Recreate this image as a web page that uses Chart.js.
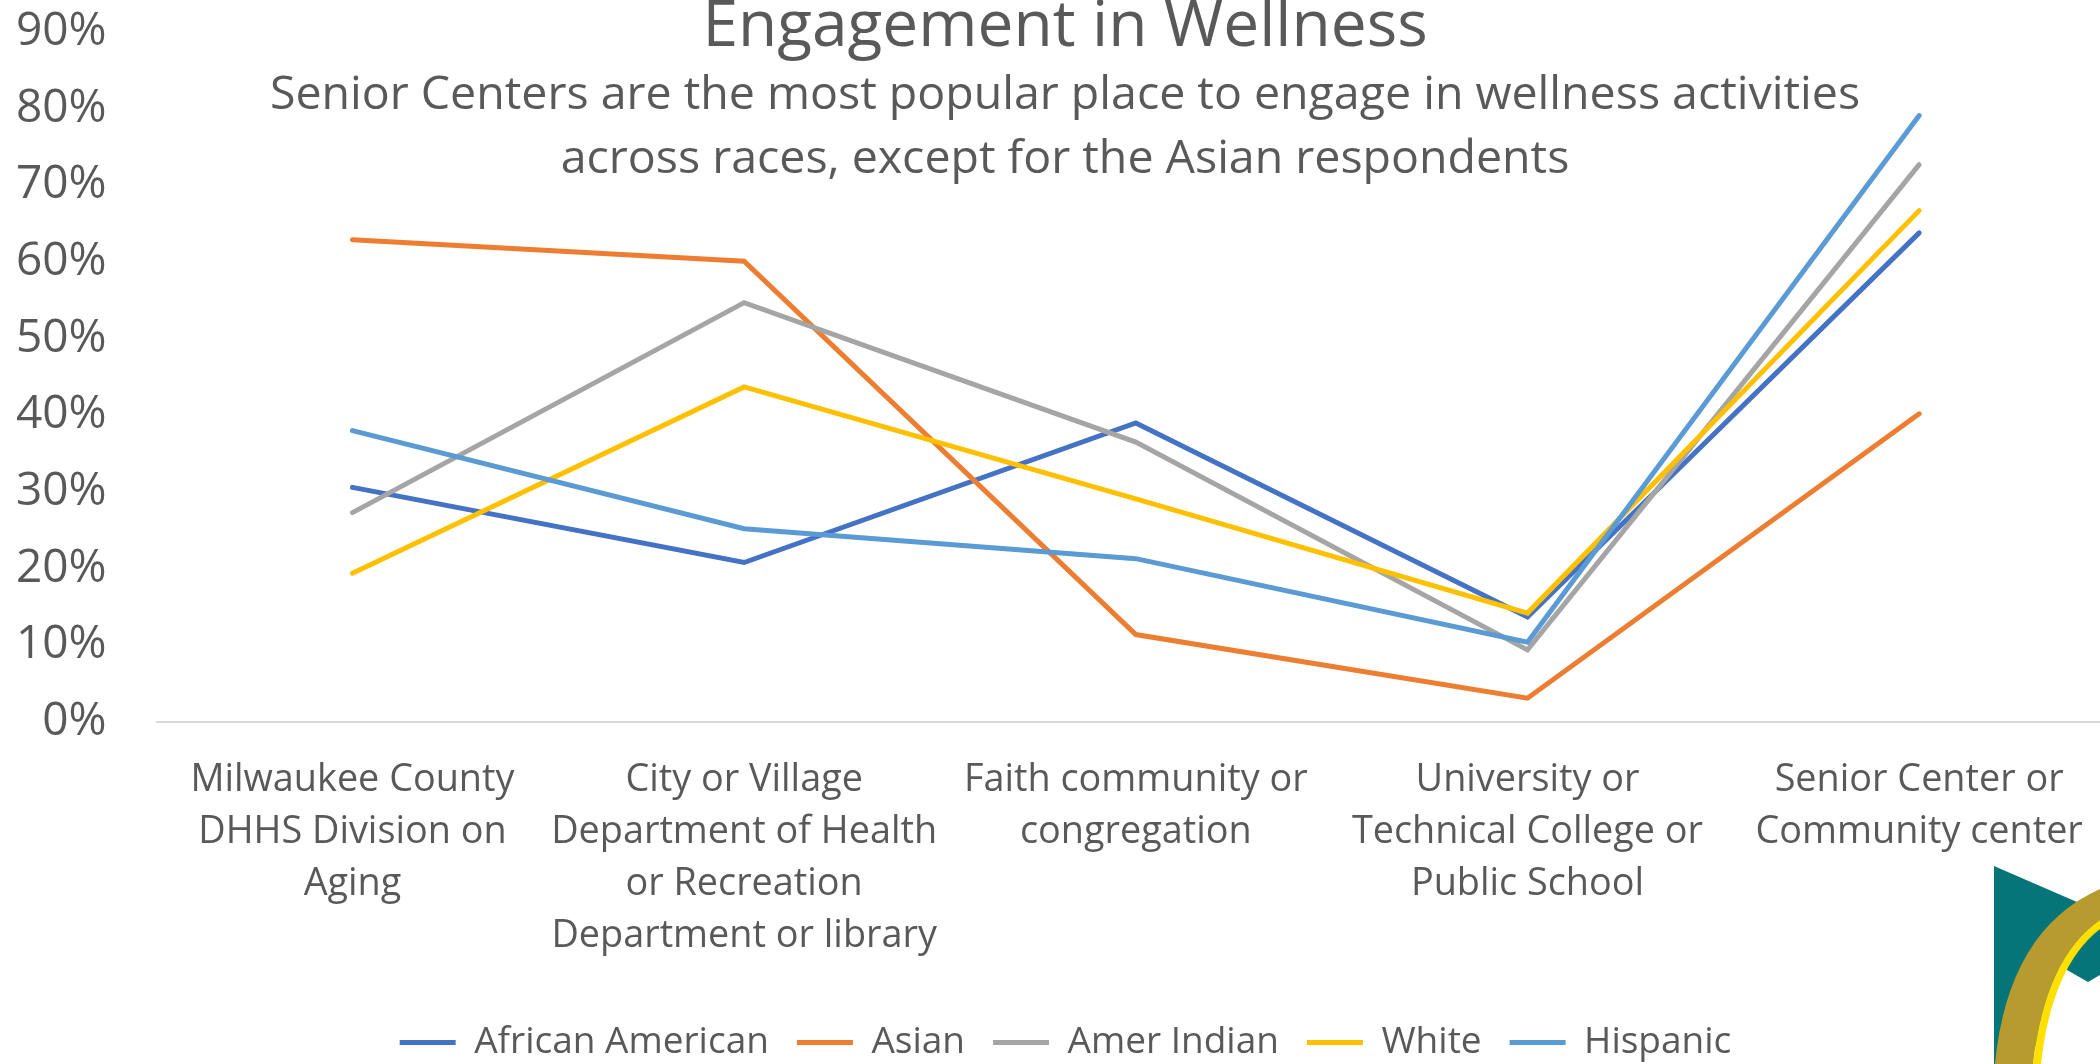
<!DOCTYPE html>
<html>
<head>
<meta charset="utf-8">
<script src="https://cdn.jsdelivr.net/npm/chart.js@4.4.1/dist/chart.umd.min.js"></script>
<style>
  html, body { margin: 0; padding: 0; background: #fff; overflow: hidden; }
  #wrap { position: absolute; left: 0; top: 0; width: 2130px; height: 1071px; }
  #logo { position: absolute; left: 0; top: 0; }
</style>
</head>
<body>
<div id="wrap"><canvas id="chart"></canvas></div>
<svg id="logo" width="2100" height="1064" viewBox="0 0 2100 1064">
  <polygon points="1994,866 2100,912 2100,975 2088,982 2060,966 2030,1064 1994,1064" fill="#06757A"/>
  <path d="M1995,1064 Q2008,930 2100,889 L2100,920 Q2045,958 2033,1064 Z" fill="#B89B2E"/>
  <path d="M2033,1064 Q2045,958 2100,920 L2100,929 Q2052,966 2041,1064 Z" fill="#FFE000"/>
</svg>
<script>
const categories = [
  ["Milwaukee County", "DHHS Division on", "Aging"],
  ["City or Village", "Department of Health", "or Recreation", "Department or library"],
  ["Faith community or", "congregation"],
  ["University or", "Technical College or", "Public School"],
  ["Senior Center or", "Community center"]
];
const seriesNames = ["African American", "Asian", "Amer Indian", "White", "Hispanic"];
const africanAmerican = [0.306, 0.208, 0.390, 0.137, 0.638];
const asian = [0.629, 0.601, 0.114, 0.031, 0.402];
const amerIndian = [0.273, 0.547, 0.365, 0.094, 0.727];
const white = [0.194, 0.437, 0.291, 0.142, 0.667];
const hispanic = [0.380, 0.252, 0.213, 0.104, 0.791];
const colors = ["#4472C4", "#ED7D31", "#A5A5A5", "#FFC000", "#5B9BD5"];
const yTicks = [0, 0.1, 0.2, 0.3, 0.4, 0.5, 0.6, 0.7, 0.8, 0.9];

const titleText = "Engagement in Wellness";
const subtitleLines = [
  "Senior Centers are the most popular place to engage in wellness activities",
  "across races, except for the Asian respondents"
];

const textColor = "#595959";
const fontFamily = "'Open Sans', sans-serif";

// title drawn over the plot area, like the original slide
const overlayTitle = {
  id: "overlayTitle",
  afterDraw(chart) {
    const ctx = chart.ctx;
    const cx = chart.width / 2;
    ctx.save();
    ctx.fillStyle = textColor;
    ctx.textAlign = "center";
    ctx.textBaseline = "alphabetic";
    ctx.font = "64px " + fontFamily;
    ctx.fillText(titleText, cx, 46);
    ctx.font = "46.5px " + fontFamily;
    ctx.textBaseline = "middle";
    ctx.fillText(subtitleLines[0], cx, 96);
    ctx.fillText(subtitleLines[1], cx, 160);
    ctx.restore();
  }
};

const allSeries = [africanAmerican, asian, amerIndian, white, hispanic];

new Chart(document.getElementById("chart"), {
  type: "line",
  data: {
    labels: categories,
    datasets: allSeries.map((values, i) => ({
      label: seriesNames[i],
      data: values,
      borderColor: colors[i],
      backgroundColor: colors[i],
      borderWidth: 5,
      borderCapStyle: "round",
      borderJoinStyle: "miter",
      pointRadius: 0,
      tension: 0,
      order: allSeries.length - i
    }))
  },
  options: {
    responsive: true,
    maintainAspectRatio: false,
    animation: false,
    layout: { padding: { left: 16, right: 15, top: 32, bottom: 0 } },
    plugins: {
      tooltip: { enabled: false },
      title: { display: false },
      legend: {
        position: "bottom",
        labels: {
          usePointStyle: true,
          pointStyle: "line",
          pointStyleWidth: 56,
          padding: 28,
          color: textColor,
          font: { family: fontFamily, size: 37 },
          sort: (a, b) => a.datasetIndex - b.datasetIndex
        }
      }
    },
    scales: {
      x: {
        offset: true,
        grid: { display: false, drawTicks: false, offset: true },
        border: { display: true, color: "#D9D9D9", width: 2 },
        ticks: {
          color: textColor,
          font: { family: fontFamily, size: 37.8, lineHeight: 1.376 },
          padding: 32,
          maxRotation: 0,
          autoSkip: false
        },
        afterFit(scale) { scale.height += 2; }
      },
      y: {
        min: 0,
        max: 0.9,
        afterBuildTicks(scale) { scale.ticks = yTicks.map(v => ({ value: v })); },
        afterFit(scale) {
          // chart.js reserves the tick padding twice; keep it only between labels and plot
          scale.width -= scale.options.ticks.padding;
          scale.paddingTop = 0;
          scale.paddingBottom = 0;
        },
        grid: { display: false, drawTicks: false },
        border: { display: false },
        ticks: {
          color: textColor,
          font: { family: fontFamily, size: 46 },
          padding: 50,
          callback: v => Math.round(v * 100) + "%"
        }
      }
    }
  },
  plugins: [overlayTitle]
});
</script>
</body>
</html>
